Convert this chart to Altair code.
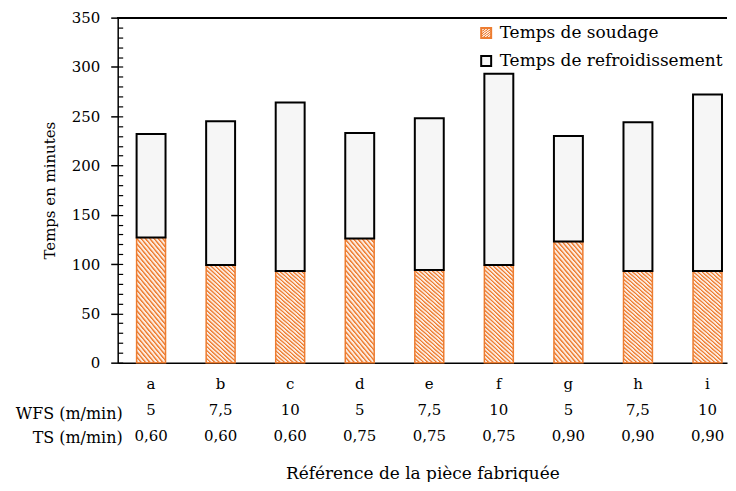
import altair as alt
import pandas as pd

# ---- data ----
refs = ["a", "b", "c", "d", "e", "f", "g", "h", "i"]
wfs = ["5", "7,5", "10", "5", "7,5", "10", "5", "7,5", "10"]
ts = ["0,60", "0,60", "0,60", "0,75", "0,75", "0,75", "0,90", "0,90", "0,90"]
soudage = [127, 99, 93, 126, 94, 99, 123, 93, 93]
refroid = [105, 146, 171, 107, 154, 194, 107, 151, 179]
series = ["Temps de soudage", "Temps de refroidissement"]
row_labels = ["WFS (m/min)", "TS (m/min)"]

df = pd.DataFrame({
    "label": [f"{r}|{w}|{t}" for r, w, t in zip(refs, wfs, ts)],
    "soudage": soudage,
    "refroid": refroid,
})

FONT = "DejaVu Serif"
ORANGE = "#ED7D31"
LIGHT = "#FDEBDF"
W = 611
H = 346

# hatch fill (diagonal stripes) built as a linear gradient style
w0, h0 = 29.0, 105.0
k = (w0 + h0) / (w0 ** 2 + h0 ** 2)
n = 31
stops = []
for i in range(n):
    b = i / n
    stops += [
        {"offset": b, "color": ORANGE},
        {"offset": b + 0.15 / n, "color": ORANGE},
        {"offset": b + 0.55 / n, "color": LIGHT},
        {"offset": b + 0.85 / n, "color": LIGHT},
    ]
stops.append({"offset": 1.0, "color": ORANGE})
hatch = alt.LinearGradient(gradient="linear", stops=stops,
                           x1=0, y1=1, x2=k * w0, y2=1 - k * h0)

xenc = alt.X(
    "label:N", sort=None,
    scale=alt.Scale(paddingInner=0.584, paddingOuter=0.172, align=0.79),
    axis=alt.Axis(
        title="Référence de la pièce fabriquée",
        labelExpr="split(datum.value, '|')",
        labelAngle=0, ticks=False, domainColor="black", domainWidth=1.5,
        labelPadding=14, labelLineHeight=26, labelBaseline="top",
        labelFont=FONT, labelFontSize=15, labelColor="black",
        titleFont=FONT, titleFontSize=17, titleFontWeight="normal",
        titleColor="black", titlePadding=22,
    ),
)

leg_common = dict(
    orient="none", title=None, symbolType="square", symbolSize=100,
    symbolStrokeWidth=2, labelFont=FONT, labelFontSize=17,
    labelColor="black", labelLimit=400, labelOffset=5,
)

base = alt.Chart(df)

bar_s = base.transform_calculate(
    serie_s=f"'{series[0]}'"
).mark_bar(fill=hatch, strokeWidth=1.5).encode(
    x=xenc,
    y=alt.Y(
        "soudage:Q",
        scale=alt.Scale(domain=[0, 350], nice=False),
        axis=alt.Axis(
            values=list(range(0, 351, 50)), tickSize=7, grid=False,
            title="Temps en minutes", domainColor="black", domainWidth=1.5,
            tickColor="black", tickWidth=1.5, labelPadding=11,
            labelFont=FONT, labelFontSize=15, labelColor="black",
            titleFont=FONT, titleFontSize=15, titleFontWeight="normal",
            titleColor="black", titlePadding=14,
        ),
    ),
    stroke=alt.Stroke(
        "serie_s:N", scale=alt.Scale(domain=[series[0]], range=[ORANGE]),
        legend=alt.Legend(legendX=361, legendY=7, **leg_common),
    ),
)

bar_r = base.transform_calculate(
    total="datum.soudage + datum.refroid",
    serie_r=f"'{series[1]}'",
).mark_bar(fill="#F6F6F6", strokeWidth=2).encode(
    x=xenc,
    y=alt.Y(
        "soudage:Q",
        axis=alt.Axis(
            orient="left", offset=-5, values=list(range(0, 351, 10)),
            tickSize=5, labels=False, domain=False, grid=False, title=None,
            tickColor="black", tickWidth=1.2,
        ),
    ),
    y2="total:Q",
    stroke=alt.Stroke(
        "serie_r:N", scale=alt.Scale(domain=[series[1]], range=["black"]),
        legend=alt.Legend(legendX=361, legendY=35, **leg_common),
    ),
)

top_line = alt.Chart(df).mark_rule(color="black", strokeWidth=1.5).encode(
    y=alt.Y(datum=350, axis=None)
)

row1 = alt.Chart(pd.DataFrame({"t": [row_labels[0]]})).mark_text(
    align="right", baseline="middle", font=FONT, fontSize=16, color="black"
).encode(x=alt.value(5), y=alt.value(397), text="t:N")

row2 = alt.Chart(pd.DataFrame({"t": [row_labels[1]]})).mark_text(
    align="right", baseline="middle", font=FONT, fontSize=16, color="black"
).encode(x=alt.value(5), y=alt.value(422), text="t:N")

chart = alt.layer(bar_s, bar_r, top_line, row1, row2).resolve_axis(
    y="independent"
).resolve_scale(
    stroke="independent"
).properties(
    width=W, height=H,
    padding={"left": 7, "top": 2, "right": 0, "bottom": 0},
).configure_view(stroke=None)

chart.save("out.html", embed_options={"renderer": "svg", "actions": False})
